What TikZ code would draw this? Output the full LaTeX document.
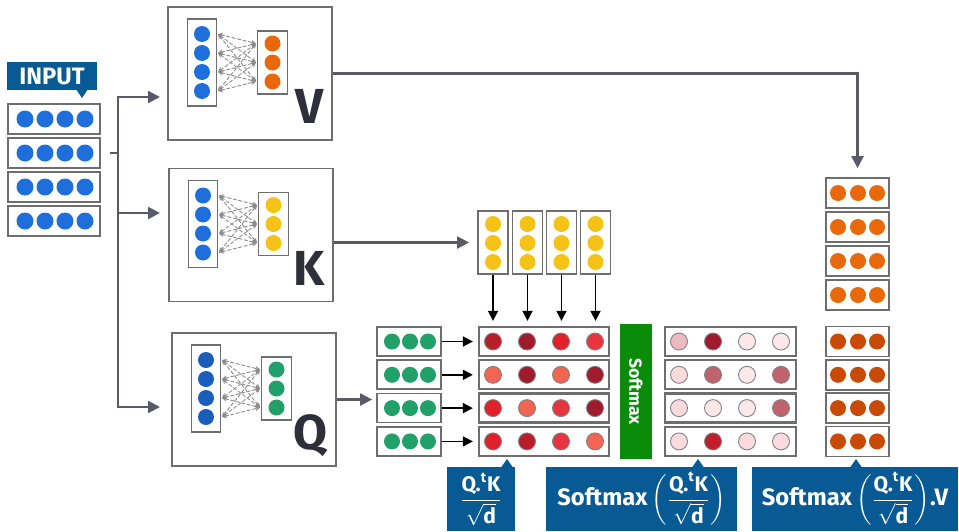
\documentclass[tikz,border=0pt]{standalone}
\usepackage{amsmath}
\usepackage{fontspec}
\setmainfont{Fira Sans}
\usetikzlibrary{arrows.meta,positioning}
\definecolor{labelblue}{HTML}{075A94}
\definecolor{framegray}{HTML}{6E6E6E}
\definecolor{linkgray}{HTML}{5A5A66}
\definecolor{lettergray}{HTML}{2F2E3B}
\definecolor{dotblue}{HTML}{1E6FDB}
\definecolor{dotnavy}{HTML}{1A5DBA}
\definecolor{dotorange}{HTML}{E8680A}
\definecolor{dotrust}{HTML}{C84A05}
\definecolor{dotyellow}{HTML}{F5C318}
\definecolor{dotgreen}{HTML}{22A06A}
\definecolor{softgreen}{HTML}{0A8C0A}
\definecolor{sdark}{HTML}{A01C2C}
\definecolor{sred}{HTML}{B81E2A}
\definecolor{sbright}{HTML}{E0202A}
\definecolor{spink}{HTML}{E8343E}
\definecolor{ssalmon}{HTML}{F26552}
\definecolor{wdark}{HTML}{A01C2C}
\definecolor{wred}{HTML}{C01E2A}
\definecolor{wmuted}{HTML}{C0636D}
\definecolor{wrose}{HTML}{EABAC0}
\definecolor{wpale}{HTML}{FADADC}
\definecolor{wfaint}{HTML}{FCE8E8}

\begin{document}
\begin{tikzpicture}[x=0.02cm, y=-0.02cm,
  frame/.style={draw=framegray, line width=1.1pt, fill=white},
  slot/.style={draw=framegray, line width=1pt, fill=white, inner sep=0pt},
  flowarrow/.style={-{Triangle[length=0.24cm,width=0.24cm]}, draw=linkgray, line width=1.25pt},
  feed/.style={-{Triangle[length=0.2cm,width=0.2cm]}, draw=black, line width=0.9pt},
  link/.style={{Stealth[length=2.8pt,width=2.8pt]}-{Stealth[length=2.8pt,width=2.8pt]},
    draw=gray!90, dash pattern=on 2.2pt off 1pt, line width=0.5pt},
  tag/.style={fill=labelblue, text=white, inner sep=0pt,
    font=\fontsize{13.5}{16}\selectfont\bfseries},
  bigletter/.style={text=lettergray, inner sep=0pt,
    font=\fontsize{28}{28}\selectfont\bfseries},
  score/.style={draw=gray, line width=0.5pt}
]
\useasboundingbox (0,0) rectangle (959,531);

\node[tag, minimum width=1.8cm, minimum height=0.56cm,
  font=\fontsize{13.5}{14}\selectfont\bfseries] (inputtag) at (52,76) {INPUT};
\fill[labelblue] (76,89) -- (82,98) -- (88,89) -- cycle;
\foreach \i in {1,...,4} {
  \node[slot, minimum width=1.84cm, minimum height=0.6cm] (in\i) at (54,{119+34*(\i-1)}) {};
  \foreach \cx in {25,45,65,85}
    \fill[dotblue] (\cx,{119+34*(\i-1)}) circle[radius=0.17cm];
}

\foreach \m/\cx/\cy/\indot/\outdot/\lab in
  {v/250/73.5/dotblue/dotorange/V, k/251/235/dotblue/dotyellow/K, q/254/399.5/dotnavy/dotgreen/Q} {
  \node[frame, minimum width=3.28cm, minimum height=2.66cm] (\m box) at (\cx,\cy) {};
  \node[slot, minimum width=0.58cm, minimum height=1.74cm] (\m in) at ({\cx-48},{\cy-11}) {};
  \node[slot, minimum width=0.6cm, minimum height=1.26cm] (\m out) at ({\cx+22.5},{\cy-11}) {};
  \foreach \i in {1,...,4}
    \foreach \j in {1,2,3}
      \draw[link] ({\cx-32},{\cy-11+(\i-2.5)*19}) -- ({\cx+6},{\cy-11+(\j-2)*19});
  \foreach \i in {1,...,4}
    \fill[\indot] ({\cx-48},{\cy-11+(\i-2.5)*19}) circle[radius=0.16cm];
  \foreach \j in {1,2,3}
    \fill[\outdot] ({\cx+22.5},{\cy-11+(\j-2)*19}) circle[radius=0.16cm];
  \node[bigletter, anchor=base east] (\m lab) at ({\cx+74},{\cy+50}) {\lab};
}

\coordinate[right=0.34cm of in2.east] (split);
\coordinate (vin) at (160,97);
\coordinate (kin) at (160,213);
\coordinate (qin) at (160,407);
\draw[draw=linkgray, line width=1.25pt, shorten <=0.18cm] (in2.east) -- (split);
\draw[flowarrow] (split) |- (vin);
\draw[flowarrow] (split) |- (kin);
\draw[flowarrow] (split) |- (qin);

\foreach \i/\cx in {1/493,2/527.5,3/561.5,4/595.5} {
  \node[slot, minimum width=0.6cm, minimum height=1.26cm] (kc\i) at (\cx,242.5) {};
  \foreach \cy in {224,243,262}
    \fill[dotyellow] (\cx,\cy) circle[radius=0.16cm];
}

\foreach \i in {1,...,4} {
  \node[slot, minimum width=1.26cm, minimum height=0.6cm] (vr\i) at (857.5,{193+34*(\i-1)}) {};
  \foreach \cx in {838,858,877}
    \fill[dotorange] (\cx,{193+34*(\i-1)}) circle[radius=0.16cm];
}

\foreach \i/\pa/\pb/\pc/\pd/\ua/\ub/\uc/\ud in
  {1/sred/sdark/sbright/spink/wrose/wdark/wfaint/wfaint,
   2/ssalmon/sdark/ssalmon/sdark/wpale/wmuted/wfaint/wmuted,
   3/sbright/ssalmon/spink/sdark/wpale/wfaint/wfaint/wmuted,
   4/sbright/sred/spink/ssalmon/wpale/wred/wpale/wpale} {
  \pgfmathsetmacro\ry{341.5+33.3*(\i-1)}
  \node[slot, minimum width=1.28cm, minimum height=0.58cm] (qr\i) at (409,\ry) {};
  \foreach \cx in {392,410,428}
    \fill[dotgreen] (\cx,\ry) circle[radius=0.16cm];
  \node[slot, line width=1.3pt, minimum width=2.6cm, minimum height=0.58cm] (sr\i) at (544,\ry) {};
  \filldraw[score, fill=\pa] (493,\ry) circle[radius=0.17cm];
  \filldraw[score, fill=\pb] (527,\ry) circle[radius=0.17cm];
  \filldraw[score, fill=\pc] (561,\ry) circle[radius=0.17cm];
  \filldraw[score, fill=\pd] (595,\ry) circle[radius=0.17cm];
  \node[slot, line width=1.3pt, minimum width=2.62cm, minimum height=0.58cm] (wr\i) at (730.5,\ry) {};
  \filldraw[score, fill=\ua] (679,\ry) circle[radius=0.17cm];
  \filldraw[score, fill=\ub] (713,\ry) circle[radius=0.17cm];
  \filldraw[score, fill=\uc] (747,\ry) circle[radius=0.17cm];
  \filldraw[score, fill=\ud] (781,\ry) circle[radius=0.17cm];
  \node[slot, minimum width=1.26cm, minimum height=0.6cm] (or\i) at (857.5,\ry) {};
  \foreach \cx in {838,858,877}
    \fill[dotrust] (\cx,\ry) circle[radius=0.16cm];
  \draw[feed, shorten >=0.1cm] (qr\i) -- (sr\i);
}

\foreach \i in {1,...,4}
  \draw[feed, shorten >=0.1cm] (kc\i.south) -- (kc\i.south |- sr1.north);
\draw[flowarrow, shorten >=0.18cm] (vbox.east) -| (vr1.north);
\draw[flowarrow, shorten >=0.16cm] (kbox.east |- kc1) -- (kc1.west);
\draw[flowarrow, shorten >=0.08cm] (qbox.east) -- (qbox.east -| qr3.west);

\node[fill=softgreen, rotate=-90, minimum width=2.7cm, minimum height=0.64cm, inner sep=0pt,
  text=white, font=\fontsize{10}{10}\selectfont\bfseries] (softbar) at (636,391.5) {Softmax};

\node[tag, minimum width=1.36cm, minimum height=1.28cm] (scorelab) at (481,499)
  {\fontsize{12}{14}\selectfont$\dfrac{\text{Q.}^{\text{t}}\text{K}}{\sqrt{\text{d}}}$};
\node[tag, minimum width=3.82cm, minimum height=1.28cm] (weightlab) at (641.5,499)
  {Softmax\,{\fontsize{12}{14}\selectfont$\left(\dfrac{\text{Q.}^{\text{t}}\text{K}}{\sqrt{\text{d}}}\right)$}};
\node[tag, minimum width=4.12cm, minimum height=1.28cm] (outlab) at (855,499)
  {Softmax\,{\fontsize{12}{14}\selectfont$\left(\dfrac{\text{Q.}^{\text{t}}\text{K}}{\sqrt{\text{d}}}\right)$}.V};
\fill[labelblue] (501,467.5) -- (507,459) -- (513,467.5) -- cycle;
\fill[labelblue] (692,467.5) -- (698,459) -- (704,467.5) -- cycle;
\fill[labelblue] (850,467.5) -- (856,459) -- (862,467.5) -- cycle;
\end{tikzpicture}
\end{document}
